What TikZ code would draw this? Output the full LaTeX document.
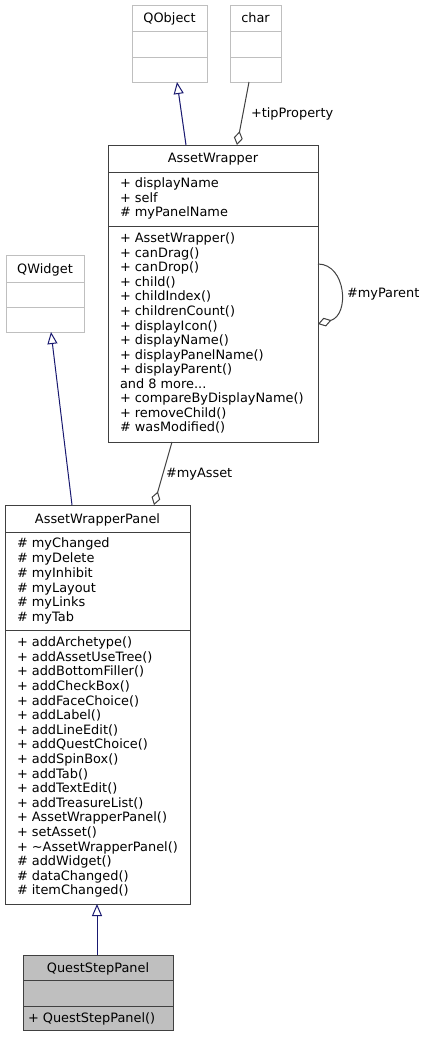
\documentclass[tikz,border=0pt]{standalone}
\usepackage{fontspec}
\setmainfont{DejaVu Sans}
\usetikzlibrary{arrows.meta,calc}
\definecolor{edgeblue}{HTML}{191970}
\definecolor{edgegray}{HTML}{404040}
\definecolor{boxdark}{HTML}{404040}
\definecolor{boxlight}{HTML}{BFBFBF}
\definecolor{fillgray}{HTML}{BFBFBF}
\newcommand\mydotsx{...}
\begin{document}
\begin{tikzpicture}[x=1pt,y=-1pt,
  comp/.style={rectangle, inner sep=0pt, outer sep=0pt, anchor=north west, line width=1pt},
  dark/.style={comp, draw=boxdark, fill=white},
  light/.style={comp, draw=boxlight, fill=white},
  sel/.style={comp, draw=boxdark, fill=fillgray},
  txt/.style={inner sep=0pt, outer sep=0pt, font=\fontsize{12.9}{14.6}\selectfont, text=black},
  ttl/.style={txt, anchor=base},
  mem/.style={txt, anchor=base west},
  lbl/.style={txt, anchor=base west},
  inh/.style={draw=edgeblue, line width=1pt, -{Triangle[open, length=12pt, width=10pt]}},
  agg/.style={draw=edgegray, line width=1pt, -{Diamond[open, length=14pt, width=9pt]}}]
\useasboundingbox (0,0) rectangle (425,1037);

% QObject
\node[light, minimum width=75pt, minimum height=26pt] (qo1) at (132,5) {};
\node[light, minimum width=75pt, minimum height=26pt] (qo2) at (132,31) {};
\node[light, minimum width=75pt, minimum height=25pt] (qo3) at (132,57) {};
\node[ttl] (qoT) at (169.5,22.7) {QObject};

% char
\node[light, minimum width=51pt, minimum height=26pt] (ch1) at (230,5) {};
\node[light, minimum width=51pt, minimum height=26pt] (ch2) at (230,31) {};
\node[light, minimum width=51pt, minimum height=25pt] (ch3) at (230,57) {};
\node[ttl] (chT) at (255.5,22.7) {char};

% QWidget
\node[light, minimum width=78pt, minimum height=27pt] (qw1) at (6,255) {};
\node[light, minimum width=78pt, minimum height=25pt] (qw2) at (6,282) {};
\node[light, minimum width=78pt, minimum height=25pt] (qw3) at (6,307) {};
\node[ttl] (qwT) at (45,273.2) {QWidget};

% AssetWrapper
\node[dark, minimum width=210pt, minimum height=27pt] (aw1) at (108,145) {};
\node[dark, minimum width=210pt, minimum height=54pt] (aw2) at (108,172) {};
\node[dark, minimum width=210pt, minimum height=216pt] (aw3) at (108,226) {};
\node[ttl] (awT) at (213,162.7) {AssetWrapper};
\foreach \s [count=\i from 0] in {{+ displayName},{+ self},{\# myPanelName}}
  \node[mem] (awa\i) at (120,187.7+14.55*\i) {\s};
\foreach \s [count=\i from 0] in {{+ AssetWrapper()},{+ canDrag()},{+ canDrop()},{+ child()},{+ childIndex()},{+ childrenCount()},{+ displayIcon()},{+ displayName()},{+ displayPanelName()},{+ displayParent()},{and 8 more\mydotsx},{+ compareByDisplayName()},{+ removeChild()},{\# wasModified()}}
  \node[mem] (awm\i) at (120,242.7+14.55*\i) {\s};

% AssetWrapperPanel
\node[dark, minimum width=185pt, minimum height=27pt] (ap1) at (5,505) {};
\node[dark, minimum width=185pt, minimum height=98pt] (ap2) at (5,532) {};
\node[dark, minimum width=185pt, minimum height=274pt] (ap3) at (5,630) {};
\node[ttl] (apT) at (97.5,523.2) {AssetWrapperPanel};
\foreach \s [count=\i from 0] in {{\# myChanged},{\# myDelete},{\# myInhibit},{\# myLayout},{\# myLinks},{\# myTab}}
  \node[mem] (apa\i) at (17,547.7+14.8*\i) {\s};
\foreach \s [count=\i from 0] in {{+ addArchetype()},{+ addAssetUseTree()},{+ addBottomFiller()},{+ addCheckBox()},{+ addFaceChoice()},{+ addLabel()},{+ addLineEdit()},{+ addQuestChoice()},{+ addSpinBox()},{+ addTab()},{+ addTextEdit()},{+ addTreasureList()},{+ AssetWrapperPanel()},{+ setAsset()},{+ \textasciitilde AssetWrapperPanel()},{\# addWidget()},{\# dataChanged()},{\# itemChanged()}}
  \node[mem] (apm\i) at (17,646.7+14.6*\i) {\s};

% QuestStepPanel
\node[sel, minimum width=150pt, minimum height=25pt] (qs1) at (23,955) {};
\node[sel, minimum width=150pt, minimum height=26pt] (qs2) at (23,980) {};
\node[sel, minimum width=150pt, minimum height=24pt] (qs3) at (23,1006) {};
\node[ttl] (qsT) at (98,972.2) {QuestStepPanel};
\node[mem] (qsm0) at (28,1022.7) {+ QuestStepPanel()};

% connectors
\draw[inh] ($(aw1.north west)+(78,0)$) -- ($(qo3.south west)+(45,0)$);
\draw[agg] ($(ch3.south west)+(19,0)$) -- ($(aw1.north west)+(129,0)$);
\node[lbl] (tipL) at (251,117.7) {+tipProperty};
\draw[agg] ($(aw3.north east)+(0,38)$) .. controls ($(aw3.north east)+(28,38)$) and ($(aw3.north east)+(32,89)$) .. ($(aw3.north east)+(0,98)$);
\node[lbl] (parL) at (347,297.7) {\#myParent};
\draw[inh] ($(ap1.north west)+(67,0)$) -- ($(qw3.south west)+(45,0)$);
\draw[agg] ($(aw3.south west)+(64,0)$) -- ($(ap1.north west)+(149,0)$);
\node[lbl] (astL) at (166,477.7) {\#myAsset};
\draw[inh] ($(qs1.north west)+(74,0)$) -- ($(ap3.south west)+(92,0)$);
\end{tikzpicture}
\end{document}
